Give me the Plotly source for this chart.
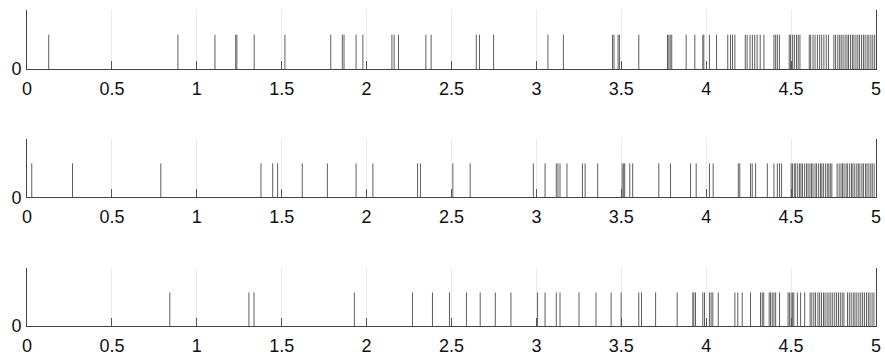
import plotly.graph_objects as go

# spike times (s) for each of the three trains
train_1 = [0.128, 0.889, 1.107, 1.229, 1.236, 1.338, 1.519, 1.789, 1.857, 1.867,
           1.938, 1.978, 2.149, 2.162, 2.188, 2.349, 2.380, 2.646, 2.665, 2.748,
           3.068, 3.159, 3.448, 3.457, 3.481, 3.489, 3.603, 3.772, 3.780, 3.788,
           3.797, 3.882, 3.933, 3.980, 3.986, 4.019, 4.061, 4.127, 4.143, 4.155,
           4.169, 4.230, 4.241, 4.258, 4.272, 4.286, 4.300, 4.318, 4.340, 4.399,
           4.409, 4.419, 4.431, 4.489, 4.497, 4.509, 4.519, 4.532, 4.542, 4.552,
           4.607, 4.615, 4.629, 4.641, 4.655, 4.668, 4.680, 4.693, 4.707, 4.720,
           4.752, 4.762, 4.775, 4.786, 4.795, 4.806, 4.818, 4.829, 4.838, 4.850,
           4.861, 4.870, 4.882, 4.893, 4.903, 4.915, 4.926, 4.936, 4.948, 4.958,
           4.970, 4.981, 4.992]

train_2 = [0.028, 0.268, 0.788, 1.378, 1.447, 1.476, 1.621, 1.769, 1.938, 2.037,
           2.300, 2.317, 2.508, 2.610, 2.982, 3.051, 3.117, 3.127, 3.139, 3.180,
           3.271, 3.287, 3.361, 3.505, 3.514, 3.520, 3.550, 3.567, 3.721, 3.790,
           3.908, 3.941, 4.019, 4.041, 4.189, 4.198, 4.261, 4.271, 4.291, 4.360,
           4.399, 4.419, 4.432, 4.444, 4.500, 4.508, 4.519, 4.527, 4.539, 4.550,
           4.558, 4.567, 4.580, 4.591, 4.600, 4.611, 4.620, 4.629, 4.641, 4.650,
           4.662, 4.673, 4.681, 4.690, 4.702, 4.713, 4.722, 4.731, 4.740, 4.771,
           4.783, 4.794, 4.803, 4.812, 4.824, 4.833, 4.845, 4.856, 4.864, 4.875,
           4.887, 4.896, 4.905, 4.917, 4.926, 4.938, 4.947, 4.958, 4.969, 4.978,
           4.989]

train_3 = [0.841, 1.307, 1.337, 1.928, 2.270, 2.388, 2.488, 2.588, 2.669, 2.758,
           2.850, 3.007, 3.051, 3.117, 3.139, 3.251, 3.351, 3.440, 3.499, 3.603,
           3.619, 3.702, 3.829, 3.921, 3.927, 3.937, 3.980, 3.990, 4.019, 4.029,
           4.039, 4.071, 4.169, 4.186, 4.212, 4.261, 4.320, 4.330, 4.339, 4.371,
           4.379, 4.389, 4.399, 4.409, 4.432, 4.482, 4.490, 4.500, 4.509, 4.516,
           4.537, 4.556, 4.580, 4.612, 4.622, 4.634, 4.644, 4.658, 4.668, 4.679,
           4.691, 4.700, 4.712, 4.723, 4.734, 4.745, 4.757, 4.768, 4.779, 4.790,
           4.801, 4.811, 4.832, 4.843, 4.854, 4.866, 4.876, 4.887, 4.899, 4.910,
           4.921, 4.932, 4.944, 4.955, 4.965, 4.977, 4.988]

spike_height = 1
x_ticks = [0, 0.5, 1, 1.5, 2, 2.5, 3, 3.5, 4, 4.5, 5]
x_tick_labels = ["0", "0.5", "1", "1.5", "2", "2.5", "3", "3.5", "4", "4.5", "5"]

trains = [train_1, train_2, train_3]
W, H = 885, 359
# pixel extents (top, bottom) of each panel
panel_px = [(10, 69), (139, 197.3), (268.3, 326)]

fig = go.Figure()
layout = dict(width=W, height=H,
              margin=dict(l=27, r=W - 876, t=0, b=0, autoexpand=False),
              plot_bgcolor="white", paper_bgcolor="white", showlegend=False,
              font=dict(family="Liberation Sans, Arial, sans-serif", size=18, color="#111"))

for i, tr in enumerate(trains):
    xs, ys = [], []
    for t in tr:
        xs += [t, t, None]
        ys += [0, spike_height, None]
    n = "" if i == 0 else str(i + 1)
    fig.add_trace(go.Scatter(x=xs, y=ys, mode="lines",
                             line=dict(color="#5e5e5e", width=1),
                             xaxis="x" + n, yaxis="y" + n, hoverinfo="skip"))
    top, bot = panel_px[i]
    layout["xaxis" + n] = dict(domain=[0, 1], range=[0, 5], anchor="y" + n,
                               tickvals=x_ticks, ticktext=x_tick_labels,
                               ticks="inside", ticklen=8, tickcolor="#555",
                               showgrid=True, gridcolor="#ebebeb", gridwidth=1,
                               showline=True, linecolor="#444", linewidth=1,
                               zeroline=False, fixedrange=True, automargin=False,
                               ticklabelstandoff=3)
    layout["yaxis" + n] = dict(domain=[1 - bot / H, 1 - top / H], range=[0, 1.72],
                               anchor="x" + n, tickvals=[0], ticktext=["0"],
                               ticks="", showgrid=False, zeroline=False,
                               showline=True, mirror=True, linecolor="#444",
                               linewidth=1, fixedrange=True, automargin=False,
                               ticklabelstandoff=1)

fig.update_layout(**layout)
fig.write_html("out.html",
               config={"displayModeBar": False, "staticPlot": True},
               post_script="document.body.style.margin='0';"
                           "document.documentElement.style.overflow='hidden';")
